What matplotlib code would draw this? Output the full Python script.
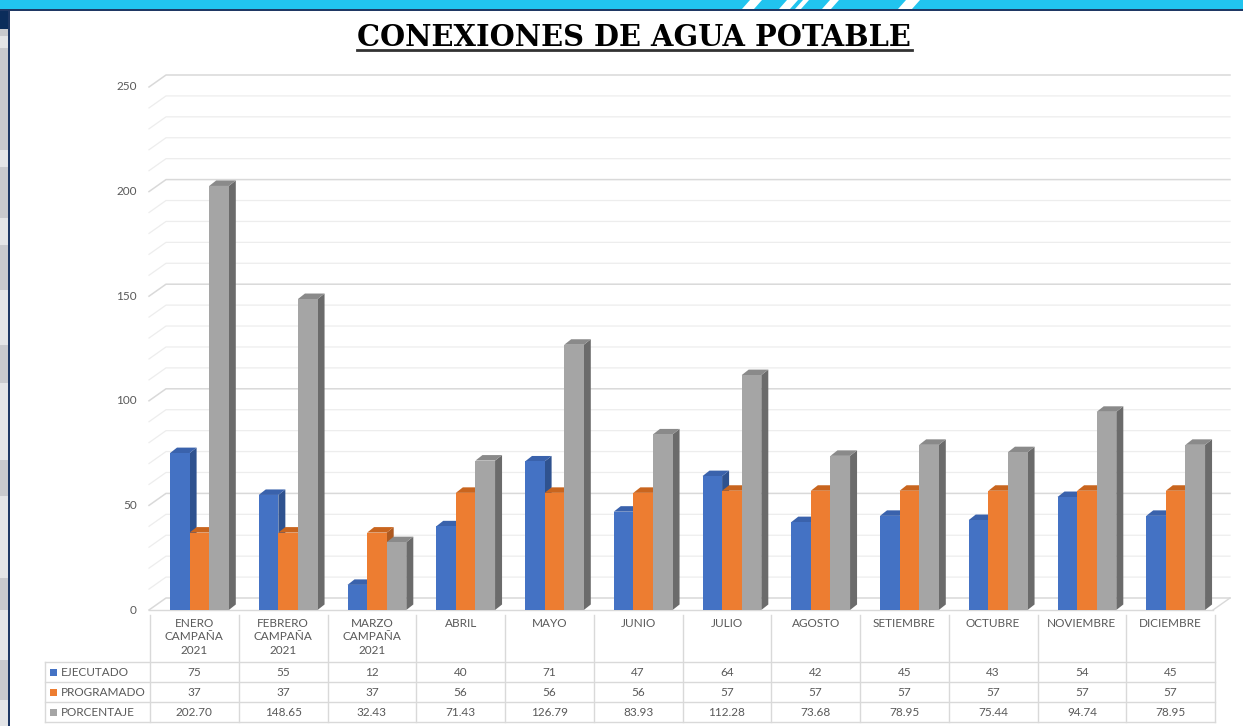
import matplotlib
matplotlib.use('Agg')
import matplotlib.pyplot as plt
from matplotlib.patches import Polygon, Rectangle
from matplotlib.transforms import blended_transform_factory

# data
categories = ['ENERO\nCAMPAÑA\n2021', 'FEBRERO\nCAMPAÑA\n2021', 'MARZO\nCAMPAÑA\n2021',
              'ABRIL', 'MAYO', 'JUNIO', 'JULIO', 'AGOSTO', 'SETIEMBRE',
              'OCTUBRE', 'NOVIEMBRE', 'DICIEMBRE']
ejecutado = [75, 55, 12, 40, 71, 47, 64, 42, 45, 43, 54, 45]
programado = [37, 37, 37, 56, 56, 56, 57, 57, 57, 57, 57, 57]
porcentaje = [202.70, 148.65, 32.43, 71.43, 126.79, 83.93, 112.28, 73.68, 78.95, 75.44, 94.74, 78.95]
series_names = ['EJECUTADO', 'PROGRAMADO', 'PORCENTAJE']
yticks = [0, 50, 100, 150, 200, 250]

W, H = 1243, 726
FONT = ['Lato', 'DejaVu Sans']
TXT = '#595959'

# colours: front, side, top
colors = [('#4472C4', '#2F528F', '#3A62AC'),
          ('#ED7D31', '#AE5A21', '#C9651E'),
          ('#A5A5A5', '#6B6B6B', '#8A8A8A')]

fig = plt.figure(figsize=(W / 100, H / 100), dpi=100)
ax = fig.add_axes([0, 0, 1, 1])
ax.axis('off')

# pixel layout -> data scale
COL_PX = 88.75
X0_PX = 150
Y0_PX = 610
PX_PER_UNIT = 2.092
ax.set_xlim(-X0_PX / COL_PX, (W - X0_PX) / COL_PX)
ax.set_ylim((Y0_PX - H) / PX_PER_UNIT, Y0_PX / PX_PER_UNIT)


def fx(px):
    return px / W


def fy(py):
    return 1 - py / H


fig_tr = fig.transFigure
bl = blended_transform_factory(ax.transData, fig_tr)

# back wall gridlines (3D look)
back_dx = 17 / COL_PX
back_dy = 12 / PX_PER_UNIT
x_left = -1 / COL_PX
x_right = (1230 - X0_PX) / COL_PX
for v in range(0, 251, 10):
    major = v % 50 == 0
    c = '#D9D9D9' if major else '#EDEDED'
    lw = 1.1 if major else 0.9
    ax.plot([x_left, x_left + back_dx, x_right], [v, v + back_dy, v + back_dy],
            color=c, lw=lw, zorder=1)
# floor front edge
ax.plot([x_left, x_right - back_dx], [0, 0], color='#D9D9D9', lw=1, zorder=1)
ax.plot([x_right - back_dx, x_right], [0, back_dy], color='#D9D9D9', lw=1, zorder=1)

# y tick labels
for v in yticks:
    ax.text((137 - X0_PX) / COL_PX, v, str(v), ha='right', va='center',
            fontsize=8.5, color=TXT, family=FONT)

# 3D bars
bar_w = 19.6 / COL_PX
offset0 = 20 / COL_PX
dx = 7 / COL_PX
dy = 5.5 / PX_PER_UNIT
all_series = [ejecutado, programado, porcentaje]
for i in range(len(categories)):
    for s, vals in enumerate(all_series):
        h = vals[i]
        x0 = i + offset0 + s * bar_w
        x1 = x0 + bar_w
        front, side, top = colors[s]
        ax.add_patch(Polygon([(x1, 0), (x1 + dx, dy), (x1 + dx, h + dy), (x1, h)],
                             closed=True, facecolor=side, edgecolor='none', zorder=3))
        ax.add_patch(Polygon([(x0, h), (x1, h), (x1 + dx, h + dy), (x0 + dx, h + dy)],
                             closed=True, facecolor=top, edgecolor='none', zorder=3))
        ax.add_patch(Rectangle((x0, 0), bar_w, h, facecolor=front, edgecolor='none', zorder=3))

# data table
grid_c = '#D9D9D9'
row_px = [662, 682, 702, 722]
label_left = 45
x_table_r = len(categories)
for py in row_px:
    ax.plot([(label_left - X0_PX) / COL_PX, x_table_r], [fy(py)] * 2, color=grid_c,
            lw=1, transform=bl, zorder=2)
for i in range(len(categories) + 1):
    ax.plot([i, i], [fy(615), fy(722)], color=grid_c, lw=1, transform=bl, zorder=2)
ax.plot([(label_left - X0_PX) / COL_PX] * 2, [fy(662), fy(722)], color=grid_c, lw=1,
        transform=bl, zorder=2)

for i, cat in enumerate(categories):
    ax.text(i + 0.5, fy(618), cat, ha='center', va='top', fontsize=8.5, color=TXT,
            family=FONT, linespacing=1.25, transform=bl)
    cells = [str(ejecutado[i]), str(programado[i]), f'{porcentaje[i]:.2f}']
    for r, txt in enumerate(cells):
        ax.text(i + 0.5, fy(row_px[r] + 10), txt, ha='center', va='center',
                fontsize=8.5, color=TXT, family=FONT, transform=bl)

for r, name in enumerate(series_names):
    yc = row_px[r] + 10
    fig.add_artist(Rectangle((fx(50), fy(yc + 3.5)), 7 / W, 7 / H,
                             facecolor=colors[r][0], edgecolor='none', transform=fig_tr))
    fig.text(fx(61), fy(yc), name, ha='left', va='center', fontsize=8.5,
             color=TXT, family=FONT)

# title
fig.text(fx(634), fy(38), 'CONEXIONES DE AGUA POTABLE', ha='center', va='center',
         fontsize=20.8, fontweight='bold', family=['DejaVu Serif'], color='black')
fig.add_artist(plt.Line2D([fx(357), fx(912)], [fy(49.5), fy(49.5)], color='#333333',
                          lw=2, transform=fig_tr))

# page frame decoration
fig.add_artist(Rectangle((0, fy(9)), 1, 9 / H, facecolor='#21C4EF', edgecolor='none',
                         transform=fig_tr))
fig.add_artist(Rectangle((0, fy(11)), 1, 2 / H, facecolor='#1F3864', edgecolor='none',
                         transform=fig_tr))
for xb, w in [(742, 12), (779, 11), (795, 6), (822, 9), (898, 14)]:
    fig.add_artist(Polygon([(fx(xb), fy(9)), (fx(xb + w), fy(9)), (fx(xb + w + 8), fy(0)),
                            (fx(xb + 8), fy(0))], closed=True, facecolor='white',
                           edgecolor='none', transform=fig_tr))
fig.add_artist(Rectangle((0, 0), fx(8), 1 - 11 / H, facecolor='#E4E5E7', edgecolor='none',
                         transform=fig_tr))
for y0, y1 in [(12, 36), (48, 150), (167, 218), (245, 290), (345, 383), (460, 496),
               (578, 610), (660, 700)]:
    fig.add_artist(Rectangle((0, fy(y1)), fx(8), (y1 - y0) / H, facecolor='#C9CACE',
                             edgecolor='none', transform=fig_tr))
fig.add_artist(Rectangle((0, fy(29)), fx(8), 18 / H, facecolor='#0B2D5B', edgecolor='none',
                         transform=fig_tr))
fig.add_artist(Rectangle((fx(8), 0), fx(2.5), 1 - 10 / H, facecolor='#1F3864',
                         edgecolor='none', transform=fig_tr))

fig.savefig('out.png', dpi=100)
